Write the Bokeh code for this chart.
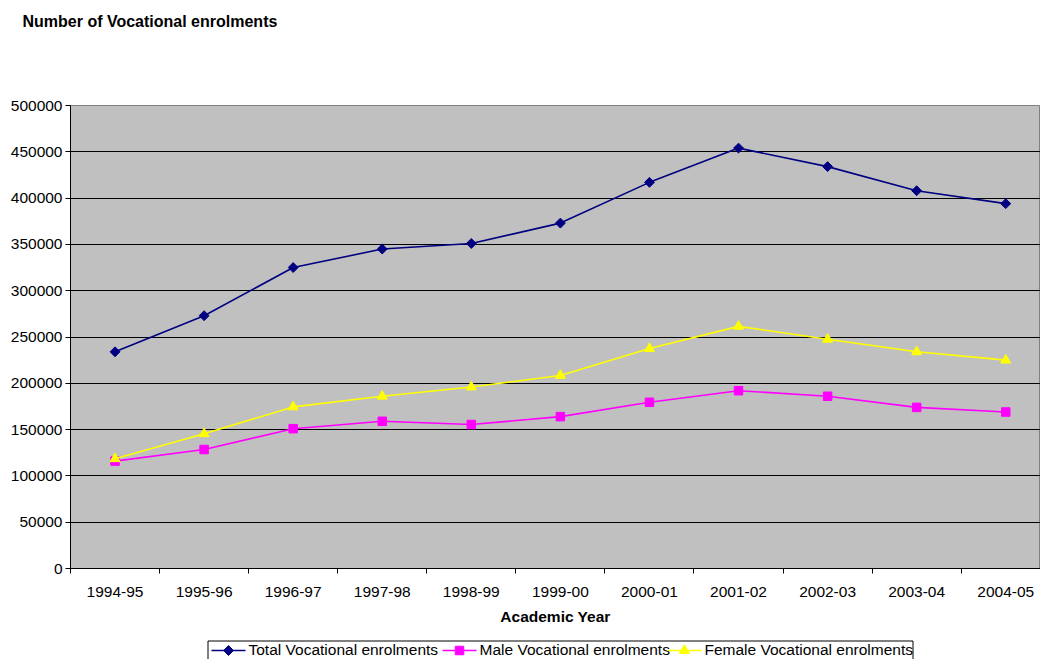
import math
from bokeh.plotting import figure
from bokeh.models import (Range1d, FixedTicker, BasicTickFormatter, ColumnDataSource, Title)
from bokeh.core.properties import value
from bokeh.layouts import column
from bokeh.embed import file_html
from bokeh.resources import INLINE

years = ["1994-95", "1995-96", "1996-97", "1997-98", "1998-99", "1999-00",
         "2000-01", "2001-02", "2002-03", "2003-04", "2004-05"]
total = [234000, 273000, 325000, 345000, 351000, 373000, 417000, 454000, 434000, 408000, 394000]
male = [116000, 128500, 151000, 159000, 155500, 164000, 179500, 192000, 186000, 174000, 169000]
female = [118500, 145500, 174500, 186000, 196000, 208500, 237500, 261500, 247500, 234000, 225000]
y_ticks = list(range(0, 500001, 50000))
series_names = ["Total Vocational enrolments", "Male Vocational enrolments",
                "Female Vocational enrolments"]

FONT = "Liberation Sans"
idx = list(range(len(years)))
src = ColumnDataSource(dict(x=idx, total=total, male=male, female=female))

p = figure(width=1040, height=639, output_backend="svg", toolbar_location=None, title=None,
           x_range=Range1d(-0.5, -0.5 + 970 / 89.07), y_range=Range1d(0, 500000),
           min_border_left=70, min_border_right=0, min_border_top=105, min_border_bottom=71)

p.background_fill_color = "#C0C0C0"
p.border_fill_color = "white"
p.outline_line_color = "#808080"
p.xgrid.visible = False
p.ygrid.grid_line_color = "black"
p.ygrid.grid_line_width = 1

# title: a spacer panel next to the frame, then the real title above it
spacer = Title(text=" ", standoff=71, text_font_size="1px")
p.add_layout(spacer, "above")
main_title = Title(text="Number of Vocational enrolments", text_font=FONT,
                   text_font_size="16px", text_font_style="bold", text_color="black",
                   align="left", vertical_align="top", standoff=0, offset=-48)
p.add_layout(main_title, "above")

# x axis
xa = p.xaxis[0]
xa.ticker = FixedTicker(ticks=idx, minor_ticks=[i - 0.5 for i in range(len(years) + 1)])
xa.major_label_overrides = {i: y for i, y in enumerate(years)}
xa.major_tick_out = 0
xa.major_tick_in = 0
xa.minor_tick_out = 5
xa.minor_tick_in = 0
xa.minor_tick_line_color = "black"
xa.axis_line_color = "black"
xa.major_label_text_font = FONT
xa.major_label_text_font_size = "15.5px"
xa.major_label_text_color = "black"
xa.major_label_standoff = 13
xa.axis_label = "Academic Year"
xa.axis_label_text_font = FONT
xa.axis_label_text_font_size = "15.5px"
xa.axis_label_text_font_style = "bold"
xa.axis_label_text_color = "black"
xa.axis_label_standoff = 8

# y axis
ya = p.yaxis[0]
ya.ticker = FixedTicker(ticks=y_ticks)
ya.formatter = BasicTickFormatter(use_scientific=False)
ya.major_tick_out = 5
ya.major_tick_in = 0
ya.minor_tick_out = 0
ya.minor_tick_in = 0
ya.major_tick_line_color = "black"
ya.axis_line_color = "black"
ya.major_label_text_font = FONT
ya.major_label_text_font_size = "15.5px"
ya.major_label_text_color = "black"
ya.major_label_standoff = 3

# series: (column, colour, marker, size, angle)
styles = [("total", "#000080", "square", 7, math.pi / 4),
          ("male", "#FF00FF", "square", 8.5, 0.0),
          ("female", "#FFFF00", "triangle", 10, 0.0)]
for col, color, marker, size, ang in styles:
    p.line("x", col, source=src, line_color=color, line_width=1.6)
    p.scatter("x", col, source=src, marker=marker, size=size, angle=ang,
              fill_color=color, line_color=color)

# legend strip (the reference's legend box runs off the bottom edge of the picture)
lg = figure(width=1040, height=20, output_backend="svg", toolbar_location=None,
            x_range=Range1d(70, 1040), y_range=Range1d(0, 20),
            x_axis_type=None, y_axis_type=None,
            min_border_left=70, min_border_right=0, min_border_top=0, min_border_bottom=0)
lg.outline_line_color = None
lg.grid.visible = False
lg.background_fill_color = "white"
lg.border_fill_color = "white"

lg.quad(left=207.5, right=912.5, top=18.5, bottom=-10,
        fill_color="white", line_color="black", line_width=1)
glyph_x0 = [211, 442, 667]
gy = 9
for (col, color, marker, size, ang), name, x0 in zip(styles, series_names, glyph_x0):
    lg.segment(x0=x0, y0=gy, x1=x0 + 34, y1=gy, line_color=color, line_width=1.6)
    lg.scatter(x=[x0 + 17], y=[gy], marker=marker, size=size, angle=ang,
               fill_color=color, line_color=color)
    lg.text(x=[x0 + 37], y=[gy + 1], text=[name], text_font=value(FONT),
            text_font_size="15.5px", text_color="black", text_baseline="middle",
            text_align="left")

layout = column(p, lg, spacing=0)
open("out.html", "w").write(file_html(layout, INLINE))
